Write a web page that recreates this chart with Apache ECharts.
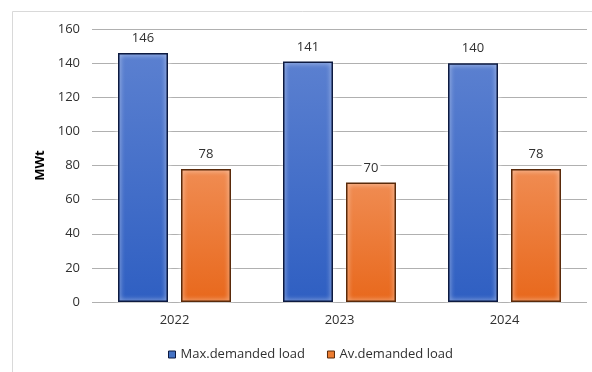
<!DOCTYPE html>
<html>
<head>
<meta charset="utf-8">
<script src="https://cdn.jsdelivr.net/npm/echarts@6/dist/echarts.min.js"></script>
<style>
  html, body { margin: 0; padding: 0; background: #fff; }
  #chart { width: 592px; height: 372px; }
</style>
</head>
<body>
<div id="chart"></div>
<script>
// Yearly load figures (MWt)
const years = ['2022', '2023', '2024'];
const maxLoad = [146, 141, 140];
const avgLoad = [78, 70, 78];
const seriesNames = ['Max.demanded load', 'Av.demanded load'];

const FONT = '"Open Sans", sans-serif';
const TEXT = '#303030';

function vGrad(top, bottom) {
  return new echarts.graphic.LinearGradient(0, 0, 0, 1, [
    { offset: 0, color: top },
    { offset: 1, color: bottom }
  ]);
}

const valueLabel = {
  show: true,
  position: 'top',
  distance: 8,
  color: TEXT,
  fontFamily: FONT,
  fontSize: 13,
  backgroundColor: '#fff',
  padding: [0, 2]
};

const chart = echarts.init(document.getElementById('chart'), null, { renderer: 'canvas' });
chart.setOption({
  animation: false,
  backgroundColor: '#fff',
  textStyle: { fontFamily: FONT },
  graphic: [{
    type: 'rect',
    silent: true,
    z: -10,
    shape: { x: 12.5, y: 11.5, width: 620, height: 420 },
    style: { fill: 'none', stroke: '#d9d9d9', lineWidth: 1 }
  }],
  grid: { left: 92, right: 5, top: 29, bottom: 70 },
  legend: {
    bottom: 6,
    left: 163,
    itemWidth: 7,
    itemHeight: 7,
    itemGap: 22,
    textStyle: { color: TEXT, fontFamily: FONT, fontSize: 13 },
    data: [
      { name: seriesNames[0], icon: 'rect', itemStyle: { color: '#4472c4', borderColor: '#0d1a40', borderWidth: 1 } },
      { name: seriesNames[1], icon: 'rect', itemStyle: { color: '#ed7d31', borderColor: '#5a2a0a', borderWidth: 1 } }
    ]
  },
  xAxis: {
    type: 'category',
    data: years,
    axisLine: { show: false },
    axisTick: { show: false },
    axisLabel: { color: TEXT, fontFamily: FONT, fontSize: 13, margin: 12 }
  },
  yAxis: {
    type: 'value',
    min: 0,
    max: 160,
    interval: 20,
    name: 'MWt',
    nameLocation: 'middle',
    nameGap: 42,
    nameTextStyle: { color: '#000', fontFamily: FONT, fontSize: 13, fontWeight: 'bold' },
    axisLine: { show: false },
    axisTick: { show: false },
    axisLabel: { color: TEXT, fontFamily: FONT, fontSize: 13, margin: 12 },
    splitLine: { lineStyle: { color: '#b0b0b0', width: 1 } }
  },
  series: [
    {
      name: seriesNames[0],
      type: 'bar',
      data: maxLoad,
      barWidth: 50,
      barGap: '26%',
      itemStyle: {
        color: vGrad('#5b80d0', '#2f5fc2'),
        borderColor: '#0d1a40',
        borderWidth: 1.5,
        shadowColor: '#ffffff',
        shadowBlur: 5
      },
      label: valueLabel
    },
    {
      name: seriesNames[1],
      type: 'bar',
      data: avgLoad,
      barWidth: 50,
      barGap: '26%',
      itemStyle: {
        color: vGrad('#f08c52', '#e8681c'),
        borderColor: '#5a2a0a',
        borderWidth: 1.5,
        shadowColor: '#ffffff',
        shadowBlur: 5
      },
      label: valueLabel
    }
  ]
});
</script>
</body>
</html>
